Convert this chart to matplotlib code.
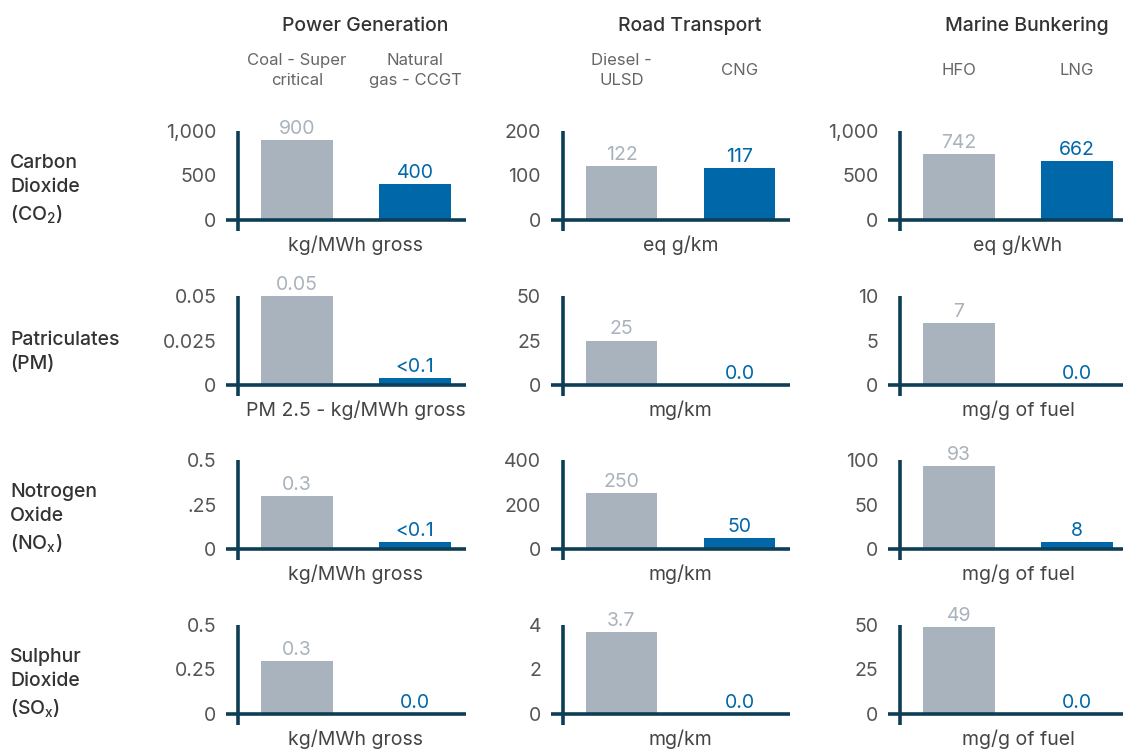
import matplotlib
matplotlib.use("Agg")
import matplotlib.pyplot as plt
from matplotlib.lines import Line2D

plt.rcParams['font.family'] = ['Inter', 'DejaVu Sans']
plt.rcParams['mathtext.default'] = 'regular'

# ---- data -------------------------------------------------------------
sectors = ["Power Generation", "Road Transport", "Marine Bunkering"]
fuels = [["Coal - Super\ncritical", "Natural\ngas - CCGT"],
         ["Diesel -\nULSD", "CNG"],
         ["HFO", "LNG"]]
pollutants = ["Carbon\nDioxide\n(CO$_2$)", "Patriculates\n(PM)",
              "Notrogen\nOxide\n(NO$_x$)", "Sulphur\nDioxide\n(SO$_x$)"]

# each row: [conventional fuel, gas fuel] for power / road / marine
co2_values = [[900, 400], [122, 117], [742, 662]]
co2_labels = [["900", "400"], ["122", "117"], ["742", "662"]]
pm_values = [[0.05, 0.004], [25, 0.0], [7, 0.0]]
pm_labels = [["0.05", "<0.1"], ["25", "0.0"], ["7", "0.0"]]
nox_values = [[0.3, 0.04], [250, 50], [93, 8]]
nox_labels = [["0.3", "<0.1"], ["250", "50"], ["93", "8"]]
sox_values = [[0.3, 0.0], [3.7, 0.0], [49, 0.0]]
sox_labels = [["0.3", "0.0"], ["3.7", "0.0"], ["49", "0.0"]]

co2_units = ["kg/MWh gross", "eq g/km", "eq g/kWh"]
pm_units = ["PM 2.5 - kg/MWh gross", "mg/km", "mg/g of fuel"]
nox_units = ["kg/MWh gross", "mg/km", "mg/g of fuel"]
sox_units = ["kg/MWh gross", "mg/km", "mg/g of fuel"]

co2_ticks = [[0, 500, 1000], [0, 100, 200], [0, 500, 1000]]
co2_ticklabels = [["0", "500", "1,000"], ["0", "100", "200"], ["0", "500", "1,000"]]
pm_ticks = [[0, 0.025, 0.05], [0, 25, 50], [0, 5, 10]]
pm_ticklabels = [["0", "0.025", "0.05"], ["0", "25", "50"], ["0", "5", "10"]]
nox_ticks = [[0, 0.25, 0.5], [0, 200, 400], [0, 50, 100]]
nox_ticklabels = [["0", ".25", "0.5"], ["0", "200", "400"], ["0", "50", "100"]]
sox_ticks = [[0, 0.25, 0.5], [0, 2, 4], [0, 25, 50]]
sox_ticklabels = [["0", "0.25", "0.5"], ["0", "2", "4"], ["0", "25", "50"]]

rows = [
    (co2_values, co2_labels, co2_units, co2_ticks, co2_ticklabels),
    (pm_values, pm_labels, pm_units, pm_ticks, pm_ticklabels),
    (nox_values, nox_labels, nox_units, nox_ticks, nox_ticklabels),
    (sox_values, sox_labels, sox_units, sox_ticks, sox_ticklabels),
]

# ---- style ------------------------------------------------------------
GREY = "#a8b3bd"
BLUE = "#0068a8"
AXIS = "#0e3e56"
TICK = "#555555"
TEXT = "#333333"
SUB = "#666666"
FS = 14

W, H = 1123, 749
fig = plt.figure(figsize=(W / 100, H / 100), dpi=100)
fig.patch.set_facecolor("white")

unit_px = 118.0              # pixels between the two bar centres
x_lo, x_hi = -0.6, 1.43       # data range of each panel
first_bar_px = [297, 621.5, 959]
baseline_px = [220, 385, 549, 714]
panel_h = 89


def fx(px):
    return px / W


def fy(py):
    return 1 - py / H


for r, (vals, labs, units, ticks, tlabs) in enumerate(rows):
    for c in range(3):
        left = first_bar_px[c] + x_lo * unit_px
        width = (x_hi - x_lo) * unit_px
        ax = fig.add_axes([fx(left), fy(baseline_px[r]), width / W, panel_h / H])
        ax.set_xlim(x_lo, x_hi)
        ax.set_ylim(0, ticks[c][-1])
        for s in ax.spines.values():
            s.set_visible(False)
        ax.patch.set_alpha(0)
        ax.set_xticks([])
        ax.set_yticks(ticks[c])
        ax.set_yticklabels(tlabs[c])
        ax.tick_params(axis="y", length=0, pad=7, labelsize=FS, labelcolor=TICK)

        bars = ax.bar([0, 1], vals[c], width=0.61, color=[GREY, BLUE], zorder=2)
        for b, lab, col in zip(bars, labs[c], [GREY, BLUE]):
            ax.annotate(lab, (b.get_x() + b.get_width() / 2, b.get_height()),
                        xytext=(0, 1.5), textcoords="offset points",
                        ha="center", va="bottom", fontsize=FS, color=col)

        # baseline across the panel and the vertical axis at x = -0.5,
        # which drops a little below the baseline
        ax.add_line(Line2D([x_lo, x_hi], [0, 0], color=AXIS, lw=2.6,
                           clip_on=False, zorder=3, solid_capstyle="butt"))
        trans = ax.get_xaxis_transform()
        ax.plot([-0.5, -0.5], [-11 / panel_h, 1], color=AXIS, lw=2.6,
                transform=trans, clip_on=False, zorder=3, solid_capstyle="butt")

        # unit caption below the panel
        cx = first_bar_px[c] + unit_px / 2
        fig.text(fx(cx), fy(baseline_px[r] + 25), units[c], ha="center",
                 va="center", fontsize=FS, color="#444444")

    n_lines = pollutants[r].count("\n") + 1
    off = 30 if n_lines == 3 else 33
    fig.text(fx(10), fy(baseline_px[r] - off), pollutants[r], ha="left",
             va="center", fontsize=FS, color=TEXT, fontweight="medium",
             linespacing=1.45)

# column headers and fuel names
for c in range(3):
    cx = first_bar_px[c] + unit_px / 2
    fig.text(fx(cx + 9), fy(26), sectors[c], ha="center", va="center",
             fontsize=FS, color=TEXT, fontweight="medium")
    for k in range(2):
        fig.text(fx(first_bar_px[c] + k * unit_px), fy(70.5), fuels[c][k],
                 ha="center", va="center", fontsize=12, color=SUB,
                 linespacing=1.35)

fig.savefig("out.png", dpi=100)
